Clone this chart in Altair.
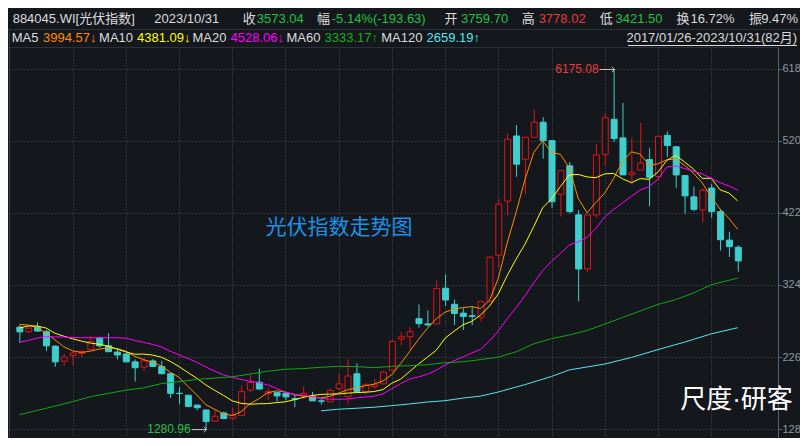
import altair as alt
import pandas as pd

# ---------------- data ----------------
months = [f"{2017 + k // 12}/{k % 12 + 1:02d}" for k in range(82)]

opens = [2673, 2611, 2673, 2611, 2415, 2210, 2286, 2317, 2370, 2530,
         2419, 2335, 2308, 2201, 2130, 2214, 2139, 2041, 1774, 1747,
         1614, 1547, 1396, 1507, 1436, 1471, 1818, 1925, 1774, 1782,
         1774, 1702, 1747, 1738, 1671, 1658, 1836, 1729, 2040, 1796,
         1863, 1903, 2089, 2512, 2543, 2788, 2717, 2717, 3202, 2984,
         2864, 2828, 2810, 3020, 3651, 4386, 5271, 4955, 5253, 5458,
         5209, 4479, 4866, 4199, 3464, 4199, 5022, 5498, 5245, 4746,
         4808, 4951, 4720, 5280, 5124, 4733, 4444, 4266, 4564, 4243,
         3856, 3759.70]
highs = [2690, 2663, 2731, 2628, 2417, 2308, 2344, 2352, 2548, 2535,
         2584, 2375, 2315, 2228, 2250, 2232, 2210, 2045, 1850, 1750,
         1614, 1547, 1560, 1520, 1569, 1872, 2019, 2103, 1841, 1782,
         1787, 1751, 1863, 1787, 1693, 1836, 2027, 2227, 2174, 1907,
         1960, 2072, 2490, 2601, 2664, 2975, 2895, 3309, 3384, 3042,
         2922, 2953, 3028, 3630, 4408, 5298, 5414, 5253, 5623, 5520,
         5209, 4800, 4911, 4257, 4199, 5156, 5574, 6175.08, 5712, 5245,
         5445, 5098, 5267, 5325, 5124, 4733, 4577, 4559, 4613, 4274,
         3963, 3778.02]
lows = [2455, 2584, 2606, 2339, 2126, 2139, 2152, 2255, 2361, 2388,
        2330, 2228, 2195, 1925, 2072, 2130, 2023, 1703, 1623, 1578,
        1538, 1280.96, 1396, 1418, 1409, 1471, 1787, 1818, 1676, 1653,
        1671, 1578, 1693, 1671, 1613, 1658, 1809, 1618, 1787, 1751,
        1832, 1889, 2067, 2419, 2361, 2659, 2677, 2708, 2953, 2695,
        2628, 2695, 2744, 3010, 3473, 4185, 4710, 4479, 5253, 4955,
        4288, 4168, 4215, 3020, 3420, 4154, 4853, 5187, 4742, 4610,
        4808, 4310, 4688, 4978, 4555, 4208, 4240, 4088, 4154, 3709,
        3620, 3421.50]
closes = [2609, 2660, 2620, 2419, 2201, 2268, 2321, 2344, 2477, 2419,
          2339, 2295, 2201, 2121, 2214, 2139, 2041, 1774, 1770, 1596,
          1578, 1391, 1462, 1431, 1471, 1796, 1921, 1832, 1796, 1738,
          1725, 1693, 1773, 1671, 1665, 1814, 1903, 2009, 1800, 1889,
          1889, 2063, 2477, 2543, 2610, 2721, 2704, 3198, 3042, 2859,
          2819, 2819, 3020, 3625, 4346, 5227, 4888, 5253, 5458, 5209,
          4377, 4800, 4243, 3464, 4199, 5013, 5520, 5236, 4742, 4773,
          4906, 4710, 5267, 5142, 4742, 4457, 4274, 4533, 4243, 3861,
          3766.67, 3573.04]

ma5 = [2704, 2695, 2664, 2584, 2495, 2400, 2345, 2322, 2340, 2368,
       2385, 2375, 2340, 2270, 2225, 2190, 2140, 2055, 1985, 1862,
       1745, 1615, 1550, 1490, 1467, 1515, 1625, 1692, 1775, 1800,
       1785, 1748, 1730, 1712, 1705, 1725, 1770, 1815, 1840, 1870,
       1892, 1935, 2022, 2173, 2335, 2500, 2650, 2780, 2870, 2912,
       2932, 2945, 2920, 3030, 3330, 3810, 4225, 4670, 5040, 5200,
       5040, 5015, 4830, 4420, 4220, 4360, 4488, 4687, 4915, 5050,
       5018, 4870, 4885, 4942, 4948, 4866, 4760, 4625, 4436, 4270,
       4145, 3994.57]
ma10 = [2655, 2682, 2682, 2655, 2584, 2544, 2508, 2477, 2450, 2434,
        2407, 2370, 2330, 2299, 2300, 2287, 2259, 2202, 2131, 2049,
        1973, 1883, 1809, 1740, 1665, 1631, 1619, 1625, 1627, 1641,
        1652, 1680, 1712, 1738, 1752, 1757, 1758, 1770, 1777, 1782,
        1791, 1818, 1905, 1960, 2063, 2165, 2258, 2352, 2517, 2610,
        2698, 2744, 2830, 2953, 3118, 3368, 3590, 3792, 4035, 4288,
        4410, 4577, 4735, 4742, 4708, 4697, 4750, 4755, 4683, 4630,
        4685, 4675, 4775, 4933, 5003, 4911, 4815, 4688, 4690, 4533,
        4490, 4381.09]
ma20 = [2459, 2486, 2517, 2535, 2535, 2531, 2526, 2522, 2522, 2522,
        2522, 2522, 2517, 2486, 2459, 2433, 2397, 2340, 2290, 2241,
        2190, 2126, 2069, 2019, 1983, 1955, 1932, 1912, 1880, 1835,
        1780, 1755, 1735, 1725, 1700, 1688, 1686, 1690, 1705, 1718,
        1729, 1760, 1830, 1900, 1960, 1990, 2025, 2081, 2152, 2210,
        2260, 2316, 2365, 2477, 2615, 2780, 2930, 3092, 3270, 3435,
        3560, 3665, 3785, 3825, 3887, 4007, 4165, 4266, 4355, 4444,
        4530, 4577, 4675, 4844, 4855, 4822, 4786, 4746, 4690, 4630,
        4586, 4528.06]
ma60_idx = [0, 2, 4, 6, 8, 10, 12, 14, 16, 18, 20, 22, 24, 26, 28, 30, 32,
            34, 36, 38, 40, 42, 44, 46, 48, 50, 52, 54, 56, 58, 60, 62, 64,
            66, 68, 70, 72, 74, 76, 78, 81]
ma60 = [1476, 1534, 1592, 1654, 1721, 1765, 1810, 1841, 1899, 1925, 1956,
        1974, 1992, 2028, 2068, 2094, 2103, 2121, 2134, 2130, 2116, 2134,
        2143, 2156, 2183, 2196, 2225, 2260, 2330, 2440, 2510, 2560, 2620,
        2708, 2797, 2886, 2975, 3040, 3130, 3242, 3333.17]
ma120_idx = [34, 36, 38, 40, 42, 44, 46, 48, 50, 52, 54, 57, 60, 62, 66, 69,
             72, 75, 78, 81]
ma120 = [1529, 1551, 1564, 1578, 1600, 1622, 1649, 1667, 1702, 1729, 1785,
         1885, 1996, 2085, 2165, 2254, 2361, 2463, 2575, 2659.19]

y_ticks = [1280, 2260, 3240, 4220, 5200, 6180]
x_grid_months = list(range(6, 82, 6))

# ---------------- styles / layout ----------------
BG = "#14171c"
RED = "#e01515"
CYAN = "#3ecece"
GRID = "#4d525a"
AXIS = "#5c6168"
LBL = "#9198a0"
TXT = "#dcdcdc"
GREEN_T = "#22c244"
RED_T = "#ec3a3a"
FONT = "Liberation Sans, Noto Sans CJK SC, sans-serif"
CJK = "Noto Sans CJK SC, sans-serif"
MA_NAMES = ["MA5", "MA10", "MA20", "MA60", "MA120"]
MA_COLORS = ["#ff8c00", "#ffff00", "#ff00ff", "#10a810", "#58e4f0"]

# the reference (808x446) is mapped into a 792x430 canvas
SX, SY = 792 / 800, 430 / 438
PAD_TOP = 39
W, H = 770, 391


def px(xr):
    return (xr - 8) * SX


def py(yr):
    return (yr - 8) * SY - PAD_TOP


def X(field="i"):
    return alt.X(f"{field}:Q",
                 scale=alt.Scale(domain=[-0.716, 84.97], nice=False, zero=False),
                 axis=alt.Axis(values=x_grid_months, grid=True, gridColor=GRID,
                               gridDash=[1, 2], labels=False, ticks=False,
                               domain=False, title=None))


def Y(field):
    return alt.Y(f"{field}:Q",
                 scale=alt.Scale(domain=[1159.8, 6473.7], nice=False, zero=False),
                 axis=alt.Axis(orient="right", values=y_ticks, grid=True,
                               gridColor=GRID, gridDash=[1, 2], domainColor=AXIS,
                               tickColor=AXIS, tickSize=4, labelColor=LBL,
                               labelFontSize=11, labelFont="Liberation Sans",
                               labelPadding=0, format="d",
                               labelExpr="substring(datum.label, 0, 3)",
                               title=None))


df = pd.DataFrame({"i": list(range(82)), "month": months, "open": opens,
                   "high": highs, "low": lows, "close": closes})
up = "datum.close >= datum.open"

wicks = alt.Chart(df).mark_rule(strokeWidth=1, xOffset=0.5).encode(
    x=X(), y=Y("low"), y2="high",
    color=alt.condition(up, alt.value(RED), alt.value(CYAN)))

bodies = alt.Chart(df).mark_bar(size=6, strokeWidth=1, xOffset=0.5,
                                yOffset=0.5, y2Offset=0.5).encode(
    x=X(), y=Y("open"), y2="close",
    fill=alt.condition(up, alt.value(BG), alt.value(CYAN)),
    stroke=alt.condition(up, alt.value(RED), alt.value(CYAN)))

rows = []
for name, arr in (("MA5", ma5), ("MA10", ma10), ("MA20", ma20)):
    rows += [{"i": k, "v": v, "s": name} for k, v in enumerate(arr)]
rows += [{"i": k, "v": v, "s": "MA60"} for k, v in zip(ma60_idx, ma60)]
rows += [{"i": k, "v": v, "s": "MA120"} for k, v in zip(ma120_idx, ma120)]
ma_df = pd.DataFrame(rows)

lines = alt.Chart(ma_df).mark_line(strokeWidth=1).encode(
    x=X(), y=Y("v"), order="i:Q",
    color=alt.Color("s:N", scale=alt.Scale(domain=MA_NAMES, range=MA_COLORS),
                    legend=None))

imax = max(range(82), key=lambda k: highs[k])
imin = min(range(82), key=lambda k: lows[k])
ext = pd.DataFrame({"i": [imax, imin], "v": [highs[imax], lows[imin]],
                    "label": [f"{highs[imax]:.2f}", f"{lows[imin]:.2f}"],
                    "c": [RED_T, GREEN_T]})
ext_text = alt.Chart(ext).mark_text(align="right", baseline="middle", dx=-15,
                                    fontSize=12, font=FONT).encode(
    x=X(), y=Y("v"), text="label:N", color=alt.Color("c:N", scale=None))
ext_line = alt.Chart(ext).mark_rule(color="#c8c8c8", strokeWidth=1, xOffset=-14,
                                    x2Offset=1, yOffset=0.5).encode(
    x=X(), x2="i:Q", y=Y("v"))
ext_head = alt.Chart(ext).mark_point(shape="M-1,-1L0,0L-1,1", filled=False,
                                     size=30, strokeWidth=1, opacity=1,
                                     color="#c8c8c8", xOffset=1, yOffset=0.5).encode(
    x=X(), y=Y("v"))


def label(text, xr, yr, color, size=13, font=FONT, align="left", xs=None):
    xv = px(xr) if xs is None else xs
    return alt.Chart(pd.DataFrame({"t": [text]})).mark_text(
        align=align, baseline="middle", fontSize=size, font=font,
        color=color).encode(x=alt.value(xv), y=alt.value(py(yr)), text="t:N")


def hline(yr, x0, x1, color, xs0=None, xs1=None):
    a = px(x0) if xs0 is None else xs0
    b = px(x1) if xs1 is None else xs1
    return alt.Chart(pd.DataFrame({"a": [0]})).mark_rule(
        color=color, strokeWidth=1).encode(
        x=alt.value(a), x2=alt.value(b), y=alt.value(round(py(yr)) + 0.5))


def vline(xr, y0, y1, color):
    return alt.Chart(pd.DataFrame({"a": [0]})).mark_rule(
        color=color, strokeWidth=1).encode(
        x=alt.value(round(px(xr)) + 0.5), y=alt.value(py(y0)), y2=alt.value(py(y1)))


header = [
    ("884045.WI[光伏指数]", 12.7, TXT), ("2023/10/31", 155.7, TXT),
    ("收", 245, TXT), ("3573.04", 259.3, GREEN_T),
    ("幅", 320, TXT), ("-5.14%(-193.63)", 335, GREEN_T),
    ("开", 449, TXT), ("3759.70", 465.7, GREEN_T),
    ("高", 527, TXT), ("3778.02", 544, RED_T),
    ("低", 605.7, TXT), ("3421.50", 621.7, GREEN_T),
    ("换", 683.3, TXT), ("16.72%", 697.3, TXT),
]
ma_row = [
    ("MA5", 11.7, TXT), ("3994.57↓", 43.3, MA_COLORS[0]),
    ("MA10", 100, TXT), ("4381.09↓", 138.3, MA_COLORS[1]),
    ("MA20", 194.3, TXT), ("4528.06↓", 232.7, MA_COLORS[2]),
    ("MA60", 289.3, TXT), ("3333.17↑", 327.7, "#1aae1a"),
    ("MA120", 385, TXT), ("2659.19↑", 430.7, MA_COLORS[4]),
]

texts = [label(t, x, 19, c) for t, x, c in header]
texts.append(label("振", 0, 19, TXT, xs=741))
texts.append(label("9.47%", 0, 19, TXT, xs=790, align="right"))
texts += [label(t, x, 39, c) for t, x, c in ma_row]
texts.append(label("2017/01/26-2023/10/31(82月)", 0, 39, TXT, xs=789,
                   align="right"))
texts.append(hline(46, 0, 0, TXT, xs0=620, xs1=789))
texts.append(label("光伏指数走势图", 268, 232, "#1e90e6", size=21, font=CJK))
texts.append(label("尺度·研客", 687, 407, "#ffffff", size=26, font=FONT))

frame = [hline(29, 8, 808, "#2c3038"), hline(48, 8, 786, "#2c3038"),
         vline(9, 29, 446, "#3a3e45")]

chart = alt.layer(*frame, wicks, bodies, lines, ext_line, ext_head, ext_text,
                  *texts).properties(
    width=W, height=H,
    padding={"left": 0, "top": PAD_TOP, "right": 792 - W, "bottom": 0},
    autosize=alt.AutoSizeParams(type="none"),
    background=BG,
).configure_view(stroke=None)

chart.save("out.html", embed_options={"renderer": "svg", "actions": False})
